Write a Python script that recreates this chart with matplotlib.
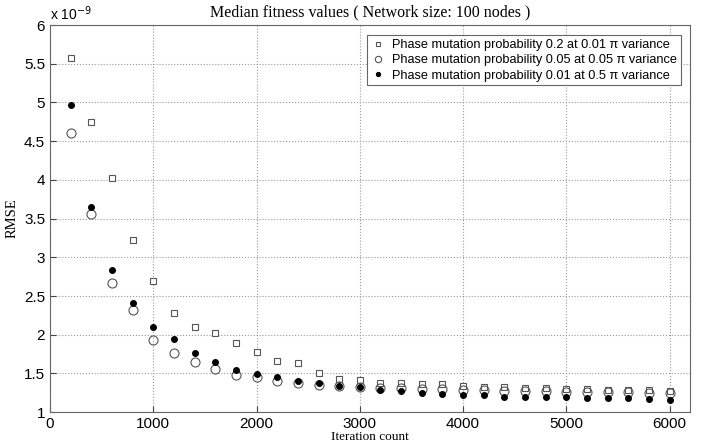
"""Median fitness values chart (RMSE vs iteration count)."""

import matplotlib

matplotlib.use("Agg")
import matplotlib.pyplot as plt

ITERATIONS = list(range(200, 6001, 200))

# RMSE values in units of 1e-9
RMSE_P02 = [5.58, 4.75, 4.02, 3.22, 2.70, 2.28, 2.10, 2.02, 1.89, 1.78,
            1.66, 1.63, 1.51, 1.43, 1.41, 1.38, 1.37, 1.36, 1.36, 1.34,
            1.33, 1.32, 1.31, 1.31, 1.30, 1.30, 1.29, 1.28, 1.28, 1.27]
RMSE_P005 = [4.60, 3.56, 2.67, 2.32, 1.93, 1.76, 1.65, 1.56, 1.48, 1.45,
             1.40, 1.37, 1.35, 1.34, 1.32, 1.31, 1.31, 1.30, 1.30, 1.29,
             1.28, 1.27, 1.27, 1.27, 1.26, 1.26, 1.26, 1.26, 1.25, 1.25]
RMSE_P001 = [4.97, 3.65, 2.84, 2.41, 2.10, 1.95, 1.76, 1.65, 1.54, 1.49,
             1.45, 1.40, 1.37, 1.34, 1.32, 1.28, 1.27, 1.25, 1.24, 1.22,
             1.22, 1.20, 1.19, 1.19, 1.19, 1.18, 1.18, 1.18, 1.17, 1.16]

LABELS = [
    "Phase mutation probability 0.2 at 0.01 \u03c0 variance",
    "Phase mutation probability 0.05 at 0.05 \u03c0 variance",
    "Phase mutation probability 0.01 at 0.5 \u03c0 variance",
]

SANS = "Liberation Sans"
SERIF = "Liberation Serif"

fig = plt.figure(figsize=(7.05, 4.47), dpi=100)
ax = fig.add_axes([0.071, 0.078, 0.908, 0.866])

ax.plot(ITERATIONS, RMSE_P02, linestyle="none", marker="s", markersize=5,
        markerfacecolor="white", markeredgecolor="#555555", markeredgewidth=0.8,
        label=LABELS[0])
ax.plot(ITERATIONS, RMSE_P005, linestyle="none", marker="o", markersize=6.5,
        markerfacecolor="none", markeredgecolor="#555555", markeredgewidth=0.8,
        label=LABELS[1])
ax.plot(ITERATIONS, RMSE_P001, linestyle="none", marker="o", markersize=4,
        markerfacecolor="black", markeredgecolor="black",
        label=LABELS[2])

ax.set_xlim(0, 6200)
ax.set_ylim(1, 6)
ax.set_xticks(range(0, 6001, 1000))
ax.set_yticks([1, 1.5, 2, 2.5, 3, 3.5, 4, 4.5, 5, 5.5, 6])
ax.set_yticklabels(["1", "1.5", "2", "2.5", "3", "3.5", "4", "4.5", "5", "5.5", "6"])
ax.grid(True, linestyle=":", color="#999999", linewidth=0.8)
ax.tick_params(direction="in", length=4, labelsize=11, colors="#444444",
               labelcolor="black")
for lbl in ax.get_xticklabels() + ax.get_yticklabels():
    lbl.set_family(SANS)
for spine in ax.spines.values():
    spine.set_color("#666666")

ax.set_title("Median fitness values ( Network size: 100 nodes )",
             family=SERIF, fontsize=11.5, pad=6)
ax.set_xlabel("Iteration count", family=SERIF, fontsize=9.5, labelpad=0)
ax.set_ylabel("RMSE", family=SERIF, fontsize=10.5, labelpad=4)
ax.text(0.0, 1.005, r"x 10$^{-9}$", transform=ax.transAxes, family=SANS,
        fontsize=10, va="bottom", ha="left")

leg = ax.legend(loc="upper right", bbox_to_anchor=(0.996, 0.99),
                prop={"family": SANS, "size": 9.2}, fancybox=False,
                framealpha=1, edgecolor="#666666", handletextpad=0.5,
                borderpad=0.3, labelspacing=0.25, handlelength=1.2,
                markerscale=0.7)
leg.get_frame().set_linewidth(0.8)

fig.savefig("out.png", dpi=100)
